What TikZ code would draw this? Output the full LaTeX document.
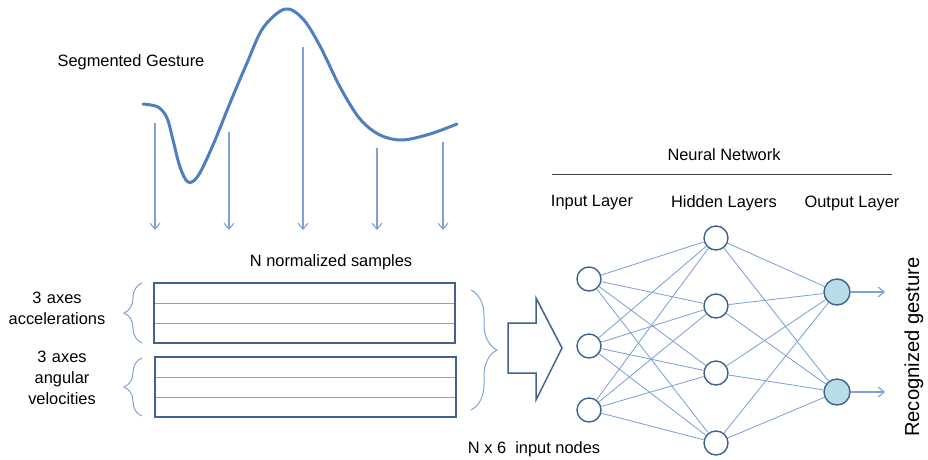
\documentclass[tikz,border=0pt]{standalone}
\usepackage{fontspec}
\setmainfont{Liberation Sans}
\usetikzlibrary{decorations.pathreplacing,arrows.meta}
\definecolor{curveblue}{HTML}{4F7FBF}
\definecolor{lightline}{HTML}{7FA2D6}
\definecolor{darkline}{HTML}{41618F}
\definecolor{outfill}{HTML}{B7DDE8}
\tikzset{
  sampleline/.style={draw=lightline, line width=1.1pt, -{Straight Barb[length=6pt,width=10pt,line width=1.1pt]}},
  boxrow/.style={draw=lightline, line width=0.9pt},
  boxframe/.style={draw=darkline, line width=1.6pt},
  bracestyle/.style={draw=lightline, line width=1pt, decorate},
  neuron/.style={circle, draw=darkline, line width=1.4pt, fill=white, minimum size=24pt, inner sep=0pt},
  outneuron/.style={neuron, fill=outfill, minimum size=26pt},
  link/.style={draw=lightline, line width=0.85pt},
  lbl/.style={font=\fontsize{16.4}{19}\selectfont, text=black, inner sep=0pt},
}
\begin{document}
\begin{tikzpicture}[x=1pt,y=-1pt]
\useasboundingbox (0,0) rectangle (928,459);

% gesture curve
\draw[curveblue, line width=3pt, line cap=round] plot[smooth, tension=0.55] coordinates {
 (143,104) (158,107) (167,118) (173,140) (180,167) (188,182) (198,176) (213,145) (230,103) (247,63) (263,28) (285,9) (303,19) (320,46) (340,87) (360,119) (380,135) (402,140) (430,134) (457,124)};
\node[lbl] (seg) at (131,62) {Segmented Gesture};

% sampling arrows
\foreach \i/\x/\y in {1/155/123, 2/229/132, 3/303/47, 4/377/148, 5/443/142} {
  \coordinate (s\i) at (\x,\y);
  \coordinate (e\i) at (\x,230);
  \draw[sampleline] (s\i) -- (e\i);
}

% sample boxes
\node[lbl] (nsamp) at (331,262) {N normalized samples};
\coordinate (b1tl) at (154,283); \coordinate (b1br) at (455,343);
\coordinate (b2tl) at (155,357); \coordinate (b2br) at (456,417);
\draw[boxrow] (154,303) -- (455,303);
\draw[boxrow] (154,323) -- (455,323);
\draw[boxrow] (155,377) -- (456,377);
\draw[boxrow] (155,397) -- (456,397);
\draw[boxframe] (b1tl) rectangle (b1br);
\draw[boxframe] (b2tl) rectangle (b2br);

% left braces and labels
\coordinate (br1a) at (142,343); \coordinate (br1b) at (142,283);
\coordinate (br2a) at (142,416); \coordinate (br2b) at (142,358);
\draw[bracestyle, decoration={brace, amplitude=18pt}] (br1a) -- (br1b);
\draw[bracestyle, decoration={brace, amplitude=18pt}] (br2a) -- (br2b);
\node[lbl, align=center, text width=110pt] (acc) at (57,308) {3 axes\\[2pt]accelerations};
\node[lbl, align=center, text width=110pt] (gyr) at (62,378) {3 axes\\[2pt]angular\\[2pt]velocities};

% right brace
\coordinate (br3a) at (471,290); \coordinate (br3b) at (471,410);
\draw[bracestyle, decoration={brace, amplitude=26pt}] (br3a) -- (br3b);

% big arrow
\draw[boxframe, fill=white, line width=1.5pt, line join=miter]
  (508,323) -- (536,323) -- (536,298) -- (562,348) -- (536,400) -- (536,373) -- (508,373) -- cycle;
\node[lbl] (nx6) at (534,449) {N x 6\ \ input nodes};

% neural network
\node[lbl] (nn) at (724,155) {Neural Network};
\coordinate (nnl) at (552,174); \coordinate (nnr) at (892,174);
\draw[black!75, line width=0.9pt] (nnl) -- (nnr);
\node[lbl] (il) at (592,203) {Input Layer};
\node[lbl] (hl) at (724,203) {Hidden Layers};
\node[lbl] (ol) at (852,203) {Output Layer};

\foreach \i/\y in {1/279, 2/346, 3/410} \node[neuron] (i\i) at (589,\y) {};
\foreach \i/\y in {1/238, 2/306, 3/373, 4/443} \node[neuron] (h\i) at (716,\y) {};
\foreach \i/\y in {1/292, 2/392} \node[outneuron] (o\i) at (837,\y) {};

\foreach \a in {1,2,3} \foreach \b in {1,2,3,4} \draw[link] (i\a) -- (h\b);
\foreach \a in {1,2,3,4} \foreach \b in {1,2} \draw[link] (h\a) -- (o\b);

\coordinate (oe1) at (885,292); \coordinate (oe2) at (885,392);
\draw[sampleline] (o1) -- (oe1);
\draw[sampleline] (o2) -- (oe2);

\node[lbl, font=\fontsize{20.2}{24}\selectfont, rotate=90] (rec) at (914,347) {Recognized gesture};
\end{tikzpicture}
\end{document}
